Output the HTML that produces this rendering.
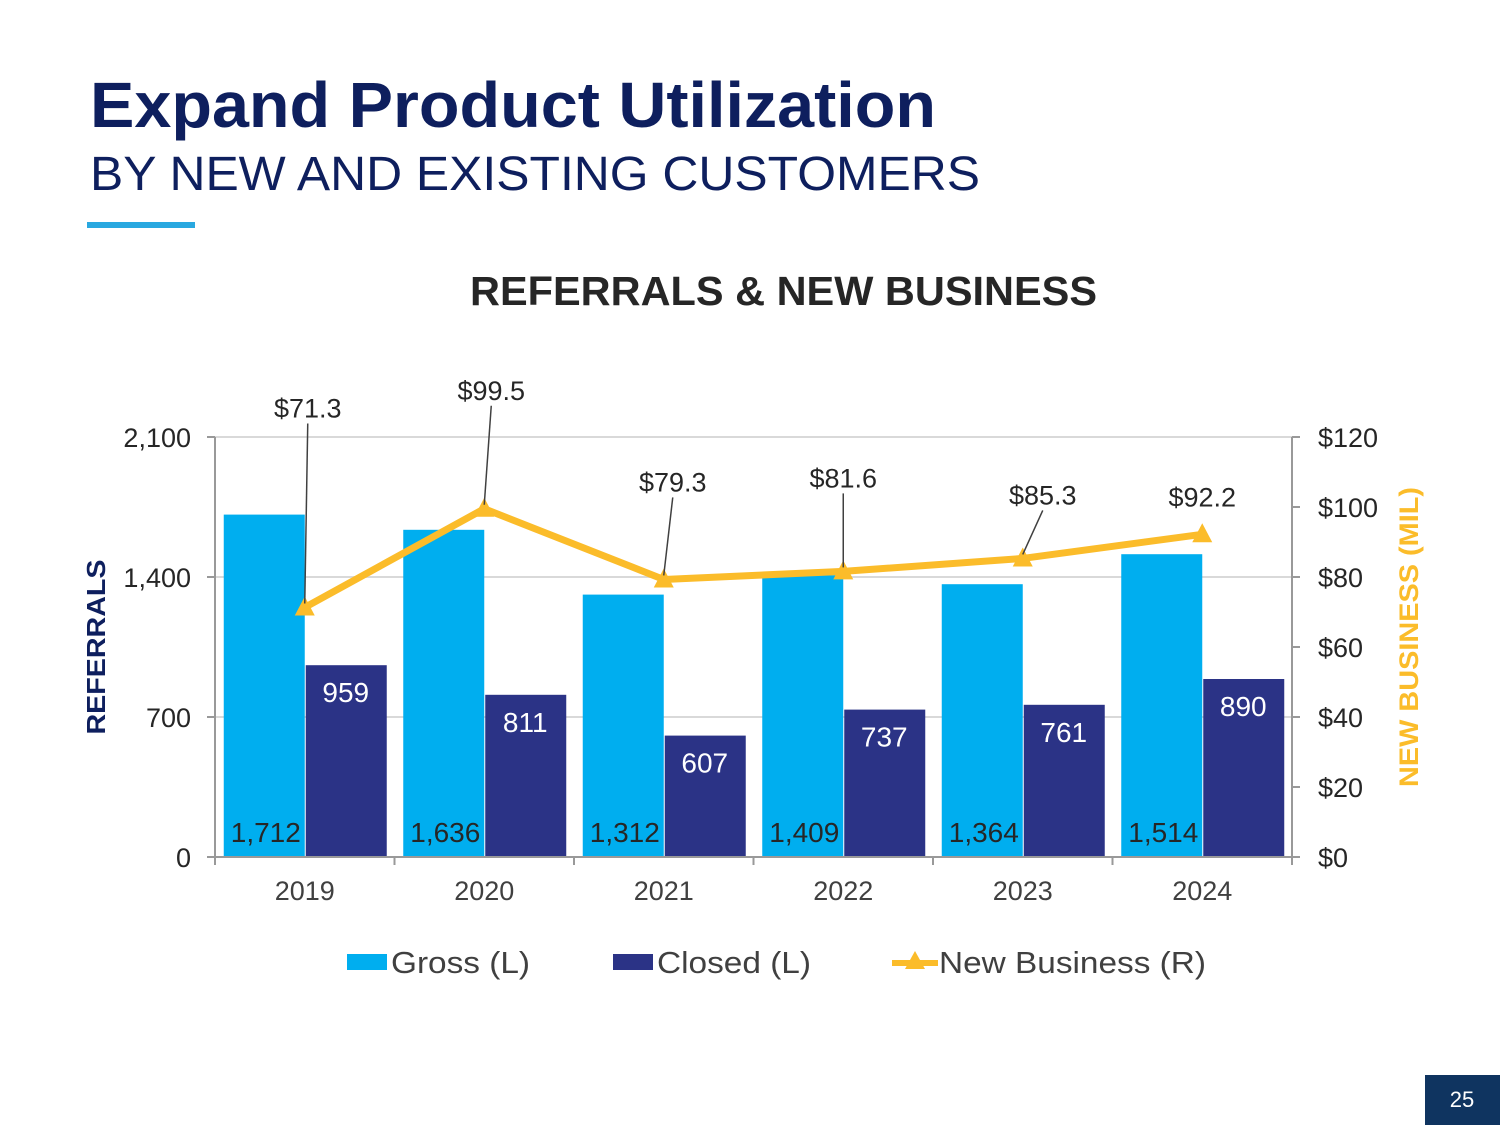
<!DOCTYPE html>
<html><head><meta charset="utf-8">
<style>
html,body{margin:0;padding:0;background:#fff;}
body{width:1500px;height:1125px;position:relative;overflow:hidden;font-family:"Liberation Sans",Arial,sans-serif;}
</style></head>
<body>
<svg width="1500" height="1125" xmlns="http://www.w3.org/2000/svg" style="position:absolute;left:0;top:0" font-family="Liberation Sans, Arial, sans-serif">
<text x="90" y="127" font-size="64" font-weight="bold" fill="#0E1F5E" textLength="846" lengthAdjust="spacingAndGlyphs">Expand Product Utilization</text>
<text x="90" y="190" font-size="48" fill="#0E1F5E" textLength="890" lengthAdjust="spacingAndGlyphs">BY NEW AND EXISTING CUSTOMERS</text>
<rect x="87" y="222" width="108" height="6" fill="#29A8E0"/>
<text x="470" y="305" font-size="41" font-weight="bold" fill="#262626" textLength="627" lengthAdjust="spacingAndGlyphs">REFERRALS &amp; NEW BUSINESS</text>
<g id="chart"></g>
<rect x="1425" y="1075" width="75" height="50" fill="#0F3460"/>
<text x="1462" y="1107" font-size="22" fill="#fff" text-anchor="middle">25</text>
</svg>
<script>
const categories=["2019","2020","2021","2022","2023","2024"];
const grossValues=[1712,1636,1312,1409,1364,1514];
const closedValues=[959,811,607,737,761,890];
const newBusinessValues=[71.3,99.5,79.3,81.6,85.3,92.2];
const leftTicks=[0,700,1400,2100];
const rightTicks=[0,20,40,60,80,100,120];
const labelOffsets=[[3,-198],[7,-117],[9,-96],[0,-92],[20,-62],[0,-36]];

const NS="http://www.w3.org/2000/svg";
const g=document.getElementById('chart');
const X0=215,X1=1292,Y0=857,Y1=437;
const yL=v=>Y0-(v/2100)*(Y0-Y1);
const yR=v=>Y0-(v/120)*(Y0-Y1);
const band=(X1-X0)/categories.length;
const xc=i=>X0+band*(i+0.5);
function mk(t,a,txt){const e=document.createElementNS(NS,t);for(const k in a)e.setAttribute(k,a[k]);if(txt!==undefined)e.textContent=txt;g.appendChild(e);return e;}

leftTicks.forEach(v=>{
 if(v>0){const l=mk('line',{x1:X0,x2:X1,y1:yL(v),y2:yL(v),stroke:'#D9D9D9','stroke-width':2});
 
 }
 const tk=mk('line',{x1:X0-8,x2:X0,y1:yL(v),y2:yL(v),stroke:'#999','stroke-width':2});
 
 
 const t=mk('text',{x:191,y:yL(v)+10,'font-size':27,fill:'#262626','text-anchor':'end'},v.toLocaleString('en-US'));
 
 
});
rightTicks.forEach(v=>{
 const tk=mk('line',{x1:X1,x2:X1+8,y1:yR(v),y2:yR(v),stroke:'#999','stroke-width':2});
 
 
 const t=mk('text',{x:1318,y:yR(v)+10,'font-size':27,fill:'#262626'},'$'+v);
 
 
});
const la=mk('line',{x1:X0,x2:X0,y1:Y1,y2:Y0,stroke:'#999','stroke-width':2});


const ra=mk('line',{x1:X1,x2:X1,y1:Y1,y2:Y0,stroke:'#999','stroke-width':2});



categories.forEach((c,i)=>{
 const cx=xc(i);
 const gb=mk('rect',{x:cx-81,y:yL(grossValues[i]),width:81,height:Y0-yL(grossValues[i]),fill:'#00AEEF'});
 
 
 const cb=mk('rect',{x:cx+1,y:yL(closedValues[i]),width:81,height:Y0-yL(closedValues[i]),fill:'#2B3386'});
 
 
 const gl=mk('text',{x:cx-74,y:842,'font-size':28,fill:'#262626'},grossValues[i].toLocaleString('en-US'));
 
 
 const cl=mk('text',{x:cx+41,y:yL(closedValues[i])+37,'font-size':28,fill:'#fff','text-anchor':'middle'},closedValues[i].toLocaleString('en-US'));
 
 
 const tk=mk('line',{x1:X0+band*i,x2:X0+band*i,y1:Y0,y2:Y0+8,stroke:'#999','stroke-width':2});
 
 
 const xl=mk('text',{x:cx,y:900,'font-size':27,fill:'#404040','text-anchor':'middle'},c);
 
 
});
const xt=mk('line',{x1:X1,x2:X1,y1:Y0,y2:Y0+8,stroke:'#999','stroke-width':2});


const xa=mk('line',{x1:X0,x2:X1,y1:Y0,y2:Y0,stroke:'#999','stroke-width':2});



const pts=newBusinessValues.map((v,i)=>xc(i)+','+yR(v)).join(' ');
const pl=mk('polyline',{points:pts,fill:'none',stroke:'#FBBC2A','stroke-width':7,'stroke-linejoin':'round'});


newBusinessValues.forEach((v,i)=>{
 const x=xc(i),y=yR(v);
 const m=mk('polygon',{points:`${x},${y-11} ${x-10},${y+8} ${x+10},${y+8}`,fill:'#FBBC2A'});
 
 
 const [dx,dy]=labelOffsets[i];
 const lx=x+dx,ly=y+dy;
 if(i<5){const ll=mk('line',{x1:lx,y1:ly+14,x2:x,y2:y-4,stroke:'#404040','stroke-width':1.5});
 
 }
 const t=mk('text',{x:lx,y:ly+8,'font-size':27,fill:'#262626','text-anchor':'middle'},'$'+v.toFixed(1));
 
 
});

const yt=mk('text',{x:0,y:0,'font-size':26,'font-weight':'bold',fill:'#0E1F5E','text-anchor':'middle',textLength:175,lengthAdjust:'spacingAndGlyphs',transform:'translate(105,647) rotate(-90)'},'REFERRALS');


const yt2=mk('text',{x:0,y:0,'font-size':27,'font-weight':'bold',fill:'#FBBC2A','text-anchor':'middle',textLength:300,lengthAdjust:'spacingAndGlyphs',transform:'translate(1418,637) rotate(-90)'},'NEW BUSINESS (MIL)');



const l1=mk('rect',{x:347,y:954,width:40,height:16,fill:'#00AEEF'});


const t1=mk('text',{x:391,y:973,'font-size':31,fill:'#404040',textLength:139,lengthAdjust:'spacingAndGlyphs'},'Gross (L)');


const l2=mk('rect',{x:613,y:954,width:40,height:16,fill:'#2B3386'});


const t2=mk('text',{x:657,y:973,'font-size':31,fill:'#404040',textLength:154,lengthAdjust:'spacingAndGlyphs'},'Closed (L)');


const l3=mk('line',{x1:892,x2:938,y1:963,y2:963,stroke:'#FBBC2A','stroke-width':6});


const l3m=mk('polygon',{points:'915,951 905,969 925,969',fill:'#FBBC2A'});


const t3=mk('text',{x:939,y:973,'font-size':31,fill:'#404040',textLength:267,lengthAdjust:'spacingAndGlyphs'},'New Business (R)');


</script>
</body></html>
